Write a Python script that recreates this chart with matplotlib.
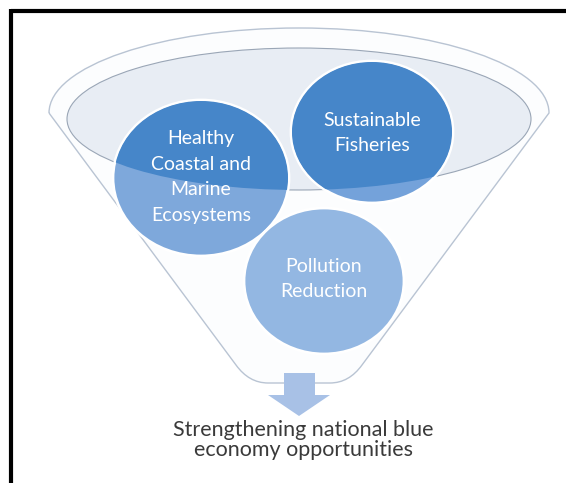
import matplotlib
matplotlib.use("Agg")
import matplotlib.pyplot as plt
from matplotlib.patches import Ellipse, Polygon, PathPatch
from matplotlib.path import Path

# Diagram content
circle_labels = ["Healthy\nCoastal and\nMarine\nEcosystems",
                 "Sustainable\nFisheries",
                 "Pollution\nReduction"]
outcome_label = "Strengthening national blue\neconomy opportunities"

# Layout (pixel coordinates, origin top-left)
W, H = 566, 483
circle_centers = [(201, 178), (372, 132), (324, 281)]
circle_radii = [(88, 78), (81, 71), (80, 73)]
circle_light = ["#7ea8db", "#74a2da", "#93b7e2"]
circle_dark = "#4686c9"
text_centers = [(201, 177), (372, 133), (324, 279)]

fig = plt.figure(figsize=(W / 100, H / 100), dpi=100)
ax = fig.add_axes([0, 0, 1, 1])
ax.set_xlim(0, W)
ax.set_ylim(H, 0)
ax.axis("off")

# Frame lines (top and left)
ax.plot([11, W], [10.5, 10.5], color="black", lw=3, solid_capstyle="butt")
ax.plot([11, 11], [9, H], color="black", lw=3, solid_capstyle="butt")

# Funnel body: upper half of outer ellipse + sides + rounded bottom
cx, cy, a, b = 299, 113, 250, 85
verts = [(cx - a, cy)]
codes = [Path.MOVETO]
k = 0.5523
verts += [(cx - a, cy - b * k), (cx - a * k, cy - b), (cx, cy - b),
          (cx + a * k, cy - b), (cx + a, cy - b * k), (cx + a, cy)]
codes += [Path.CURVE4] * 6
verts += [(362, 365), (349, 383), (330, 383), (268, 383), (249, 383), (236, 365), (cx - a, cy)]
codes += [Path.LINETO, Path.CURVE3, Path.CURVE3, Path.LINETO, Path.CURVE3, Path.CURVE3, Path.LINETO]
funnel = PathPatch(Path(verts, codes), facecolor="#fcfdfe", edgecolor="#b9c4d3", lw=1.0, zorder=1)
ax.add_patch(funnel)

# Inner rim ellipse
inner = Ellipse((299, 119), 464, 142, facecolor="#e8edf4", edgecolor="#9aa6b6", lw=0.8, zorder=2)
ax.add_patch(inner)
clip_ell = Ellipse((299, 119), 464, 142, transform=ax.transData)

# Circles
for (x, y), (rx, ry), col in zip(circle_centers, circle_radii, circle_light):
    ax.add_patch(Ellipse((x, y), 2 * rx, 2 * ry, facecolor=col, edgecolor="white", lw=2.0, zorder=3))
    dark = Ellipse((x, y), 2 * rx - 2, 2 * ry - 2, facecolor=circle_dark, edgecolor="none", zorder=4)
    ax.add_patch(dark)
    dark.set_clip_path(clip_ell)

for (x, y), lab in zip(text_centers, circle_labels):
    ax.text(x, y, lab, ha="center", va="center", color="white", fontsize=14,
            family="Lato", linespacing=1.6, zorder=6)

# Arrow below funnel
arrow = Polygon([(284, 373), (315, 373), (315, 395), (330, 395), (299, 416),
                 (268, 395), (284, 395)], closed=True, facecolor="#a8c1e6",
                edgecolor="none", zorder=5)
ax.add_patch(arrow)

ax.text(303, 440, outcome_label, ha="center", va="center", color="#3a3a3a",
        fontsize=15.5, family="Lato", linespacing=1.05, zorder=6)

plt.savefig("out.png", dpi=100, facecolor="white")
